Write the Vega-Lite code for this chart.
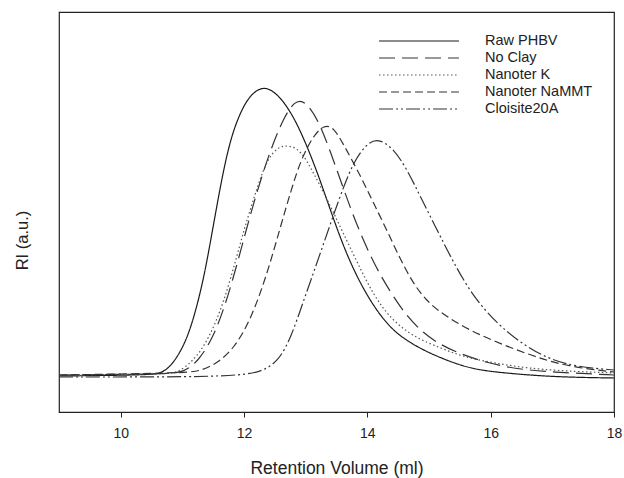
{
  "$schema": "https://vega.github.io/schema/vega-lite/v6.json",
  "width": 555,
  "height": 400,
  "autosize": {"type": "none"},
  "padding": {"left": 59, "top": 12, "right": 10, "bottom": 66},
  "background": "white",
  "config": {
    "view": {"stroke": "#222", "strokeWidth": 1.2},
    "font": "Liberation Sans"
  },
  "datasets": {
    "curves": [
      {"s": "Raw PHBV", "x": 9.0, "y": 36},
      {"s": "Raw PHBV", "x": 10.49, "y": 37},
      {"s": "Raw PHBV", "x": 10.65, "y": 39},
      {"s": "Raw PHBV", "x": 10.81, "y": 45},
      {"s": "Raw PHBV", "x": 11.02, "y": 65},
      {"s": "Raw PHBV", "x": 11.18, "y": 92},
      {"s": "Raw PHBV", "x": 11.35, "y": 134},
      {"s": "Raw PHBV", "x": 11.49, "y": 182},
      {"s": "Raw PHBV", "x": 11.67, "y": 244},
      {"s": "Raw PHBV", "x": 11.83, "y": 284},
      {"s": "Raw PHBV", "x": 12.05, "y": 314},
      {"s": "Raw PHBV", "x": 12.25, "y": 324},
      {"s": "Raw PHBV", "x": 12.4, "y": 324},
      {"s": "Raw PHBV", "x": 12.59, "y": 315},
      {"s": "Raw PHBV", "x": 12.81, "y": 295},
      {"s": "Raw PHBV", "x": 13.03, "y": 265},
      {"s": "Raw PHBV", "x": 13.24, "y": 231},
      {"s": "Raw PHBV", "x": 13.45, "y": 193},
      {"s": "Raw PHBV", "x": 13.68, "y": 155},
      {"s": "Raw PHBV", "x": 13.94, "y": 122},
      {"s": "Raw PHBV", "x": 14.21, "y": 96},
      {"s": "Raw PHBV", "x": 14.49, "y": 77},
      {"s": "Raw PHBV", "x": 14.87, "y": 63},
      {"s": "Raw PHBV", "x": 15.19, "y": 54},
      {"s": "Raw PHBV", "x": 15.67, "y": 43},
      {"s": "Raw PHBV", "x": 16.21, "y": 39},
      {"s": "Raw PHBV", "x": 17.02, "y": 35},
      {"s": "Raw PHBV", "x": 18.0, "y": 34},

      {"s": "No Clay", "x": 9.0, "y": 37},
      {"s": "No Clay", "x": 10.8, "y": 38},
      {"s": "No Clay", "x": 11.02, "y": 40},
      {"s": "No Clay", "x": 11.25, "y": 50},
      {"s": "No Clay", "x": 11.51, "y": 75},
      {"s": "No Clay", "x": 11.74, "y": 115},
      {"s": "No Clay", "x": 11.95, "y": 162},
      {"s": "No Clay", "x": 12.11, "y": 199},
      {"s": "No Clay", "x": 12.27, "y": 232},
      {"s": "No Clay", "x": 12.43, "y": 262},
      {"s": "No Clay", "x": 12.64, "y": 294},
      {"s": "No Clay", "x": 12.82, "y": 311},
      {"s": "No Clay", "x": 12.98, "y": 312},
      {"s": "No Clay", "x": 13.2, "y": 293},
      {"s": "No Clay", "x": 13.41, "y": 259},
      {"s": "No Clay", "x": 13.62, "y": 222},
      {"s": "No Clay", "x": 13.84, "y": 185},
      {"s": "No Clay", "x": 14.1, "y": 149},
      {"s": "No Clay", "x": 14.38, "y": 119},
      {"s": "No Clay", "x": 14.65, "y": 95},
      {"s": "No Clay", "x": 14.91, "y": 79},
      {"s": "No Clay", "x": 15.14, "y": 69},
      {"s": "No Clay", "x": 15.46, "y": 59},
      {"s": "No Clay", "x": 15.95, "y": 49},
      {"s": "No Clay", "x": 16.49, "y": 42},
      {"s": "No Clay", "x": 17.3, "y": 39},
      {"s": "No Clay", "x": 18.0, "y": 37},

      {"s": "Nanoter K", "x": 9.0, "y": 37},
      {"s": "Nanoter K", "x": 10.7, "y": 38},
      {"s": "Nanoter K", "x": 10.86, "y": 39},
      {"s": "Nanoter K", "x": 11.02, "y": 43},
      {"s": "Nanoter K", "x": 11.3, "y": 59},
      {"s": "Nanoter K", "x": 11.57, "y": 92},
      {"s": "Nanoter K", "x": 11.78, "y": 132},
      {"s": "Nanoter K", "x": 11.99, "y": 180},
      {"s": "Nanoter K", "x": 12.06, "y": 194},
      {"s": "Nanoter K", "x": 12.22, "y": 226},
      {"s": "Nanoter K", "x": 12.38, "y": 253},
      {"s": "Nanoter K", "x": 12.55, "y": 265},
      {"s": "Nanoter K", "x": 12.72, "y": 267},
      {"s": "Nanoter K", "x": 12.92, "y": 262},
      {"s": "Nanoter K", "x": 13.13, "y": 239},
      {"s": "Nanoter K", "x": 13.41, "y": 205},
      {"s": "Nanoter K", "x": 13.6, "y": 180},
      {"s": "Nanoter K", "x": 13.84, "y": 149},
      {"s": "Nanoter K", "x": 14.1, "y": 117},
      {"s": "Nanoter K", "x": 14.38, "y": 93},
      {"s": "Nanoter K", "x": 14.75, "y": 75},
      {"s": "Nanoter K", "x": 15.19, "y": 64},
      {"s": "Nanoter K", "x": 15.56, "y": 55},
      {"s": "Nanoter K", "x": 16.05, "y": 49},
      {"s": "Nanoter K", "x": 16.77, "y": 42},
      {"s": "Nanoter K", "x": 18.0, "y": 39},

      {"s": "Nanoter NaMMT", "x": 9.0, "y": 37},
      {"s": "Nanoter NaMMT", "x": 11.02, "y": 39},
      {"s": "Nanoter NaMMT", "x": 11.3, "y": 41},
      {"s": "Nanoter NaMMT", "x": 11.57, "y": 49},
      {"s": "Nanoter NaMMT", "x": 11.83, "y": 63},
      {"s": "Nanoter NaMMT", "x": 12.11, "y": 92},
      {"s": "Nanoter NaMMT", "x": 12.38, "y": 139},
      {"s": "Nanoter NaMMT", "x": 12.59, "y": 185},
      {"s": "Nanoter NaMMT", "x": 12.76, "y": 221},
      {"s": "Nanoter NaMMT", "x": 12.92, "y": 252},
      {"s": "Nanoter NaMMT", "x": 13.13, "y": 277},
      {"s": "Nanoter NaMMT", "x": 13.3, "y": 287},
      {"s": "Nanoter NaMMT", "x": 13.45, "y": 285},
      {"s": "Nanoter NaMMT", "x": 13.62, "y": 267},
      {"s": "Nanoter NaMMT", "x": 13.89, "y": 236},
      {"s": "Nanoter NaMMT", "x": 14.1, "y": 209},
      {"s": "Nanoter NaMMT", "x": 14.33, "y": 180},
      {"s": "Nanoter NaMMT", "x": 14.54, "y": 152},
      {"s": "Nanoter NaMMT", "x": 14.75, "y": 128},
      {"s": "Nanoter NaMMT", "x": 14.95, "y": 112},
      {"s": "Nanoter NaMMT", "x": 15.19, "y": 99},
      {"s": "Nanoter NaMMT", "x": 15.67, "y": 81},
      {"s": "Nanoter NaMMT", "x": 16.21, "y": 67},
      {"s": "Nanoter NaMMT", "x": 16.77, "y": 54},
      {"s": "Nanoter NaMMT", "x": 17.3, "y": 45},
      {"s": "Nanoter NaMMT", "x": 18.0, "y": 40},

      {"s": "Cloisite20A", "x": 9.0, "y": 35},
      {"s": "Cloisite20A", "x": 11.3, "y": 35},
      {"s": "Cloisite20A", "x": 11.95, "y": 37},
      {"s": "Cloisite20A", "x": 12.27, "y": 40},
      {"s": "Cloisite20A", "x": 12.55, "y": 50},
      {"s": "Cloisite20A", "x": 12.76, "y": 74},
      {"s": "Cloisite20A", "x": 12.97, "y": 112},
      {"s": "Cloisite20A", "x": 13.2, "y": 152},
      {"s": "Cloisite20A", "x": 13.45, "y": 197},
      {"s": "Cloisite20A", "x": 13.62, "y": 226},
      {"s": "Cloisite20A", "x": 13.78, "y": 250},
      {"s": "Cloisite20A", "x": 13.98, "y": 268},
      {"s": "Cloisite20A", "x": 14.18, "y": 274},
      {"s": "Cloisite20A", "x": 14.43, "y": 263},
      {"s": "Cloisite20A", "x": 14.65, "y": 242},
      {"s": "Cloisite20A", "x": 14.87, "y": 214},
      {"s": "Cloisite20A", "x": 15.14, "y": 181},
      {"s": "Cloisite20A", "x": 15.4, "y": 149},
      {"s": "Cloisite20A", "x": 15.72, "y": 115},
      {"s": "Cloisite20A", "x": 16.11, "y": 88},
      {"s": "Cloisite20A", "x": 16.49, "y": 69},
      {"s": "Cloisite20A", "x": 16.93, "y": 53},
      {"s": "Cloisite20A", "x": 17.41, "y": 45},
      {"s": "Cloisite20A", "x": 18.0, "y": 42}
    ]
  },
  "data": {"name": "curves"},
  "mark": {"type": "line", "interpolate": "basis", "strokeWidth": 1.2, "clip": true},
  "encoding": {
    "x": {
      "field": "x", "type": "quantitative",
      "scale": {"domain": [9, 18], "nice": false, "zero": false},
      "axis": {
        "values": [10, 12, 14, 16, 18],
        "grid": false, "domain": false,
        "tickColor": "#222", "tickSize": 5, "tickWidth": 1,
        "labelFontSize": 14, "labelColor": "#222", "labelPadding": 9,
        "labelFlush": false, "labelOverlap": false,
        "title": "Retention Volume (ml)", "titleFontSize": 17.5,
        "titleFontWeight": "normal", "titleColor": "#222",
        "titleY": 56, "titleBaseline": "middle"
      }
    },
    "y": {
      "field": "y", "type": "quantitative",
      "scale": {"domain": [0, 400], "nice": false},
      "axis": {
        "labels": false, "ticks": false, "grid": false, "domain": false,
        "title": "RI (a.u.)", "titleFontSize": 16.5, "titleFontWeight": "normal",
        "titleColor": "#222", "titleX": -37, "titleY": 228,
        "titleBaseline": "middle", "titleAlign": "center", "titleAngle": -90
      }
    },
    "strokeDash": {
      "field": "s", "type": "nominal",
      "scale": {
        "domain": ["Raw PHBV", "No Clay", "Nanoter K", "Nanoter NaMMT", "Cloisite20A"],
        "range": [[1, 0], [16, 7], [1.5, 2.5], [8, 4], [14, 3, 2, 3, 2, 3]]
      },
      "legend": {
        "title": null, "orient": "none", "legendX": 350.5, "legendY": 19.5,
        "symbolType": "M-4.7,0H4.7", "symbolSize": 289, "symbolStrokeWidth": 1.2,
        "labelFontSize": 14.5, "labelColor": "#222", "labelOffset": 56.5,
        "rowPadding": 1
      }
    },
    "color": {
      "field": "s", "type": "nominal",
      "scale": {
        "domain": ["Raw PHBV", "No Clay", "Nanoter K", "Nanoter NaMMT", "Cloisite20A"],
        "range": ["#1a1a1a", "#333333", "#555555", "#333333", "#333333"]
      },
      "legend": {
        "title": null, "orient": "none", "legendX": 350.5, "legendY": 19.5,
        "symbolType": "M-4.7,0H4.7", "symbolSize": 289, "symbolStrokeWidth": 1.2,
        "labelFontSize": 14.5, "labelColor": "#222", "labelOffset": 56.5,
        "rowPadding": 1
      }
    }
  }
}
